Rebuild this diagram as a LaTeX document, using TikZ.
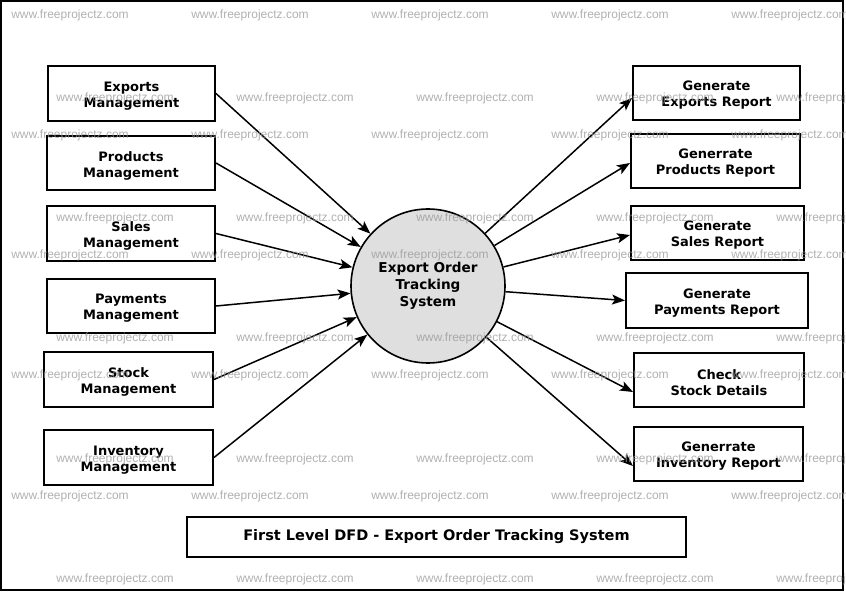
\documentclass[tikz,border=0pt]{standalone}
\usepackage{fontspec}
\setmainfont{DejaVu Sans}
\newfontfamily\wmfont{Liberation Sans}
\usetikzlibrary{arrows.meta}
\definecolor{wmgray}{RGB}{150,150,150}
\begin{document}
\begin{tikzpicture}[x=1pt,y=-1pt,
  box/.style={draw, line width=2pt, inner sep=0pt},
  lbl/.style={inner sep=0pt, align=center,
    font=\fontsize{13}{16}\selectfont\bfseries},
  proc/.style={draw, circle, line width=1.6pt, fill=gray!25, inner sep=0pt,
    minimum size=154pt, align=center, font=\fontsize{13.6}{16.8}\selectfont\bfseries},
  ttl/.style={draw, line width=2pt, inner sep=0pt, align=center,
    font=\fontsize{14.5}{17}\selectfont\bfseries},
  arr/.style={line width=1.5pt, -{Stealth[length=13pt,width=10pt,inset=3pt]}},
  wm/.style={text=wmgray, opacity=0.75, anchor=base, inner sep=0pt,
    font=\wmfont\fontsize{12}{14}\selectfont}
]
\useasboundingbox (0,0) rectangle (846,593);
\draw[line width=2pt] (1,1) rectangle (843,590);

% left boxes
\node[box, minimum width=167pt, minimum height=55pt] (expm) at (131.5,93.5) {};
\node[box, minimum width=168pt, minimum height=54pt] (prdm) at (131,163) {};
\node[box, minimum width=168pt, minimum height=55pt] (salm) at (131,233.5) {};
\node[box, minimum width=168pt, minimum height=54pt] (paym) at (131,306) {};
\node[box, minimum width=169pt, minimum height=55pt] (stkm) at (128.5,379.5) {};
\node[box, minimum width=169pt, minimum height=55pt] (invm) at (128.5,457.5) {};
\node[lbl] (expmt) at ([yshift=-2.5pt]expm.center) {Exports\\Management};
\node[lbl] (prdmt) at ([yshift=-2.5pt]prdm.center) {Products\\Management};
\node[lbl] (salmt) at ([yshift=-2.5pt]salm.center) {Sales\\Management};
\node[lbl] (paymt) at ([yshift=-2.5pt]paym.center) {Payments\\Management};
\node[lbl] (stkmt) at ([yshift=-2.5pt]stkm.center) {Stock\\Management};
\node[lbl] (invmt) at ([yshift=-2.5pt]invm.center) {Inventory\\Management};

% centre process
\node[proc] (c) at (428,286) {Export Order\\Tracking\\System};

% right boxes
\node[box, minimum width=167pt, minimum height=54pt] (gexp) at (716.5,93) {};
\node[box, minimum width=169pt, minimum height=54pt] (gprd) at (715.5,161) {};
\node[box, minimum width=173pt, minimum height=54pt] (gsal) at (717.5,233) {};
\node[box, minimum width=182pt, minimum height=55pt] (gpay) at (717,300.5) {};
\node[box, minimum width=170pt, minimum height=54pt] (gstk) at (719,380) {};
\node[box, minimum width=169pt, minimum height=54pt] (ginv) at (718.5,454) {};
\node[lbl] (gexpt) at ([yshift=-2.5pt]gexp.center) {Generate\\Exports Report};
\node[lbl] (gprdt) at ([yshift=-2.5pt]gprd.center) {Generrate\\Products Report};
\node[lbl] (gsalt) at ([yshift=-2.5pt]gsal.center) {Generate\\Sales Report};
\node[lbl] (gpayt) at ([yshift=-2.5pt]gpay.center) {Generate\\Payments Report};
\node[lbl] (gstkt) at ([yshift=-2.5pt]gstk.center) {Check\\Stock Details};
\node[lbl] (ginvt) at ([yshift=-2.5pt]ginv.center) {Generrate\\Inventory Report};

% title
\node[ttl, minimum width=499pt, minimum height=40pt] (title) at (436.5,537) {First Level DFD - Export Order Tracking System};

% connectors
\draw[arr] (expm.east) -- (c);
\draw[arr] (prdm.east) -- (c);
\draw[arr] (salm.east) -- (c);
\draw[arr] (paym.east) -- (c);
\draw[arr] (stkm.east) -- (c);
\draw[arr] (invm.east) -- (c);
\draw[arr] (c) -- ([yshift=-5pt]gexp.west);
\draw[arr] (c) -- ([yshift=-2pt]gprd.west);
\draw[arr] (c) -- ([yshift=-2pt]gsal.west);
\draw[arr] (c) -- (gpay.west);
\draw[arr] (c) -- ([yshift=-12pt]gstk.west);
\draw[arr] (c) -- ([yshift=-12pt]ginv.west);

% watermarks
\foreach \y in {15,135,255,375,495}{
  \foreach \x in {70,250,430,610,790}{
    \node[wm] at (\x,\y+4) {www.freeprojectz.com};
  }
}
\foreach \y in {98,218,338,458,578}{
  \foreach \x in {115,295,475,655,835}{
    \node[wm] at (\x,\y+4) {www.freeprojectz.com};
  }
}
\end{tikzpicture}
\end{document}
